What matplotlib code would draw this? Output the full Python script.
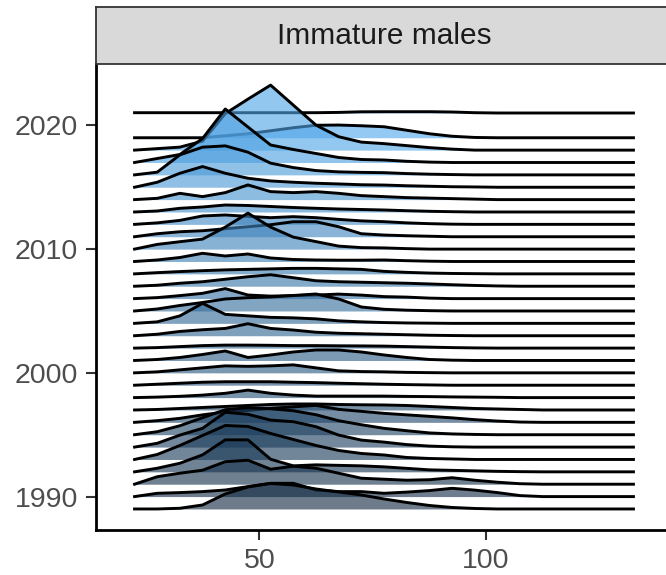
import numpy as np
import matplotlib
matplotlib.use("Agg")
import matplotlib.pyplot as plt
from matplotlib.colors import LinearSegmentedColormap, Normalize

plt.rcParams["font.family"] = ["Liberation Sans", "DejaVu Sans"]

# carapace length bin midpoints (mm)
length_mm = [22.5, 27.5, 32.5, 37.5, 42.5, 47.5, 52.5, 57.5, 62.5, 67.5, 72.5, 77.5,
             82.5, 87.5, 92.5, 97.5, 102.5, 107.5, 112.5, 117.5, 122.5, 127.5, 132.5]

# ridge heights per size bin, one list per survey year (no survey in 2020)
h1989 = [0, 0, 0.7, 4, 15, 22, 25.5, 24, 20, 17, 14, 10, 6.5, 3.5, 1.5, 0.5, 0, 0, 0, 0, 0, 0, 0]
h1990 = [0, 3.3, 4, 5, 6.6, 10, 13.3, 13.3, 6.6, 5, 5, 3.3, 4.5, 6, 8.3, 6.5, 4, 1, 0, 0, 0, 0, 0]
h1991 = [0, 7.5, 11, 14, 22.5, 24, 15, 18, 16, 11, 6, 5, 4, 4.5, 6.5, 4, 2, 0.5, 0, 0, 0, 0, 0]
h1992 = [0, 3.6, 8.6, 17, 32, 32, 12.6, 6, 7, 6.5, 6, 5, 3.5, 2, 1.5, 1, 0.5, 0.2, 0, 0, 0, 0, 0]
h1993 = [0, 5, 14, 24, 34, 33, 26, 20, 14, 9, 6, 4.5, 2, 1, 0.5, 0, 0, 0, 0, 0, 0, 0, 0]
h1994 = [0, 3.8, 12, 18.8, 34.8, 32.8, 27, 25.4, 20.4, 12, 7, 5, 2.5, 1, 0.3, 0, 0, 0, 0, 0, 0, 0, 0]
h1995 = [0, 3, 9, 17, 25, 27, 26, 24, 20, 14, 10, 6.4, 4, 1.8, 0.8, 0.3, 0, 0, 0, 0, 0, 0, 0]
h1996 = [0, 1.7, 4, 7.5, 10.4, 12, 14, 15.5, 17, 13, 11, 9, 7.5, 6, 4.5, 2.7, 1.3, 0.3, 0, 0, 0, 0, 0]
h1997 = [0, 0.5, 1.5, 2.5, 3.5, 4.5, 5.5, 6, 6, 5.5, 5.2, 5, 4.5, 3.5, 2.5, 1.5, 1, 0.5, 0, 0, 0, 0, 0]
h1998 = [0, 0.5, 1.3, 2.5, 4.3, 7.5, 4.3, 2.5, 1.5, 1.5, 1.5, 1.5, 1.2, 1, 0.7, 0.5, 0.3, 0, 0, 0, 0, 0, 0]
h1999 = [0, 1, 2, 3, 3.5, 3.5, 3.5, 3, 2.6, 2, 1.5, 1, 0.6, 0.3, 0, 0, 0, 0, 0, 0, 0, 0, 0]
h2000 = [0, 1, 3, 5, 7, 6.5, 7, 8, 5, 2, 1.3, 1, 0.5, 0.2, 0, 0, 0, 0, 0, 0, 0, 0, 0]
h2001 = [0, 1, 3, 6, 9.5, 3, 5.5, 8.5, 10.5, 10.5, 8.5, 5.5, 3, 1, 0.3, 0, 0, 0, 0, 0, 0, 0, 0]
h2002 = [0, 0.5, 1.5, 2.5, 3, 3, 2.8, 2.5, 2.5, 2.3, 2.2, 2, 1.5, 1, 0.5, 0.2, 0, 0, 0, 0, 0, 0, 0]
h2003 = [0, 1.5, 4.3, 6, 7.3, 12, 7.3, 5.7, 3.5, 2.5, 2, 1.5, 1, 0.5, 0.2, 0, 0, 0, 0, 0, 0, 0, 0]
h2004 = [0, 1.5, 7.5, 20, 9, 7.5, 6, 5.5, 4.5, 2.5, 1.5, 0.8, 0.4, 0.2, 0, 0, 0, 0, 0, 0, 0, 0, 0]
h2005 = [0, 2, 5.5, 8.5, 12, 13.3, 14, 15.5, 17, 12, 4, 1.7, 0.8, 0.3, 0, 0, 0, 0, 0, 0, 0, 0, 0]
h2006 = [0, 1, 3, 5.3, 10, 3.6, 2.5, 3, 3.6, 4.5, 3.5, 2, 1.5, 0.5, 0, 0, 0, 0, 0, 0, 0, 0, 0]
h2007 = [0, 1, 3, 4.5, 7, 9.5, 11.5, 8.5, 5.5, 4.5, 4, 3.5, 3, 2.3, 1.5, 0.8, 0.3, 0, 0, 0, 0, 0, 0]
h2008 = [0, 1.2, 2.3, 3.2, 4, 4.5, 5, 5.5, 5.5, 5, 4.5, 2.5, 1.5, 0.8, 0.4, 0.2, 0, 0, 0, 0, 0, 0, 0]
h2009 = [0, 1.5, 4, 8.2, 5.5, 7.5, 3.5, 2, 1.5, 1.3, 1.3, 1.5, 0.8, 0.3, 0, 0, 0, 0, 0, 0, 0, 0, 0]
h2010 = [0, 4.7, 7.4, 10, 22, 36, 22, 12, 7.5, 3, 1.5, 1.2, 0.5, 0, 0, 0, 0, 0, 0, 0, 0, 0, 0]
h2011 = [0, 3, 5, 6, 8, 10, 12, 15, 15, 10, 3, 1.7, 1, 0.5, 0, 0, 0, 0, 0, 0, 0, 0, 0]
h2012 = [0, 1.5, 4, 8.4, 9.4, 8, 6.7, 7.7, 6.7, 5, 3.5, 2.7, 1.5, 0.7, 0.2, 0, 0, 0, 0, 0, 0, 0, 0]
h2013 = [0, 1, 3.7, 5, 7, 6.5, 5.5, 4.5, 3.7, 3, 2.5, 2, 1.3, 0.7, 0.3, 0, 0, 0, 0, 0, 0, 0, 0]
h2014 = [0, 1.3, 6.3, 3, 7, 14.7, 8, 7, 8, 6.3, 4, 3, 2, 1.5, 1, 0.5, 0, 0, 0, 0, 0, 0, 0]
h2015 = [0, 5, 14, 20.7, 14, 9, 6.3, 5, 4, 3.3, 2.5, 2.2, 1.5, 1, 0.5, 0.3, 0, 0, 0, 0, 0, 0, 0]
h2016 = [0, 2.7, 20, 27.7, 29, 22.7, 11.7, 7.3, 4.3, 3, 2.5, 2.2, 1.3, 0.7, 0.3, 0, 0, 0, 0, 0, 0, 0, 0]
h2017 = [0, 4, 8, 24, 53.5, 35.5, 17.5, 13, 9, 5, 3, 2.5, 1.2, 0.4, 0, 0, 0, 0, 0, 0, 0, 0, 0]
h2018 = [0, 1.5, 3, 9, 36.5, 51, 65, 45, 25, 13.4, 8, 6.5, 4.5, 2.5, 1, 0, 0, 0, 0, 0, 0, 0, 0]
h2019 = [0, 0, 0, 0, 2, 4, 7, 10, 12.5, 12.7, 12, 11, 7.5, 4, 1.5, 0.3, 0, 0, 0, 0, 0, 0, 0]
h2021 = [0.3, 0.3, 0.3, 0.3, 0.3, 0.3, 0.3, 0.3, 0.3, 0.6, 1.2, 1.3, 1.3, 1.3, 1.0, 0.3, 0, 0, 0, 0, 0, 0, 0]

years = list(range(1989, 2020)) + [2021]
ridges = [h1989, h1990, h1991, h1992, h1993, h1994, h1995, h1996, h1997, h1998,
          h1999, h2000, h2001, h2002, h2003, h2004, h2005, h2006, h2007, h2008,
          h2009, h2010, h2011, h2012, h2013, h2014, h2015, h2016, h2017, h2018,
          h2019, h2021]

year_ticks = [1990, 2000, 2010, 2020]
length_ticks = [50, 100]
panel_title = "Immature males"

ridge_scale = 1 / 12.375  # ridge height in year units per unit of value
fill_cmap = LinearSegmentedColormap.from_list("year_fill", ["#132B43", "#56B1F7"])
norm = Normalize(min(years), max(years))

fig = plt.figure(figsize=(6.66, 5.75), dpi=100)
ax = fig.add_axes([96 / 666, 45 / 575, 576 / 666, 466 / 575])

# draw from the top ridge down so lower ridges overlap the ones above
pairs = sorted(zip(years, ridges), key=lambda p: -p[0])
for i, (yr, h) in enumerate(pairs):
    top = yr + np.array(h) * ridge_scale
    ax.fill_between(length_mm, yr, top, color=fill_cmap(norm(yr)), alpha=0.62,
                    linewidth=0, zorder=2 * i)
    ax.plot(length_mm, top, color="black", linewidth=2.1, zorder=2 * i + 1)

ax.set_xlim(14.0, 141.0)
ax.set_ylim(1987.3, 2024.96)
ax.set_xticks(length_ticks)
ax.set_yticks(year_ticks)
for side in ["top", "right"]:
    ax.spines[side].set_visible(False)
for side in ["left", "bottom"]:
    ax.spines[side].set_linewidth(2.0)
    ax.spines[side].set_color("black")
ax.tick_params(length=7, width=1.5, color="#333333", labelsize=20.5,
               labelcolor="#4D4D4D", pad=6)

# facet strip
sax = fig.add_axes([96 / 666, 511 / 575, 576 / 666, 57 / 575])
sax.set_facecolor("#D9D9D9")
sax.set_xticks([])
sax.set_yticks([])
for sp in sax.spines.values():
    sp.set_color("#333333")
    sp.set_linewidth(1.3)
sax.text(0.5, 0.5, panel_title, ha="center", va="center", fontsize=21.5,
         color="#1A1A1A", transform=sax.transAxes)

fig.savefig("out.png", dpi=100)
